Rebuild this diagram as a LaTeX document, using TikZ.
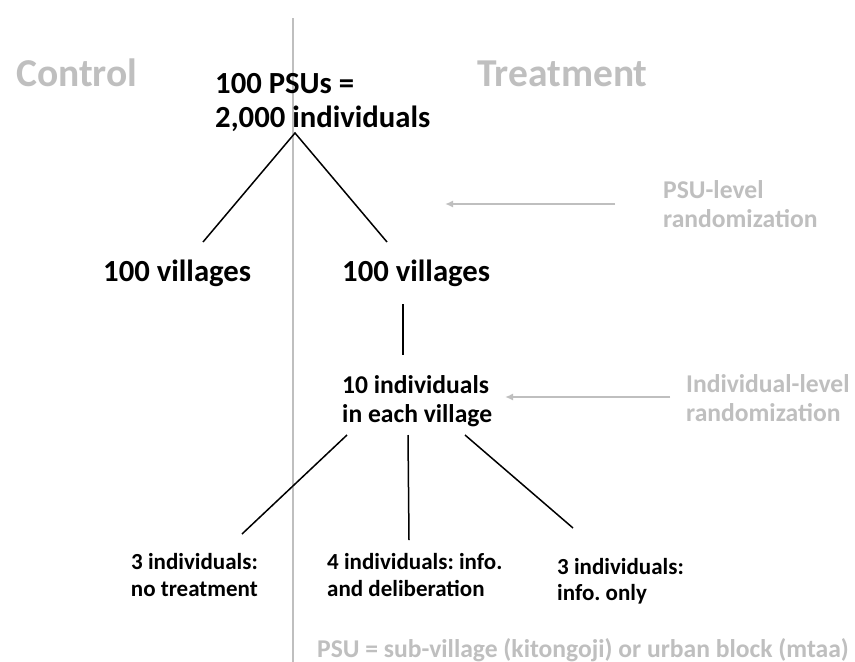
\documentclass[tikz,border=0pt]{standalone}
\usepackage{fontspec}
\setmainfont{Carlito}
\usetikzlibrary{arrows.meta}
\definecolor{refgray}{HTML}{BFBFBF}
\frenchspacing
\begin{document}
\begin{tikzpicture}[x=1pt,y=-1pt,
  txt/.style={inner sep=0pt, anchor=base west},
  hdr/.style={txt, text=refgray, font=\fontsize{39.5}{44}\selectfont\bfseries},
  mainlbl/.style={txt, font=\fontsize{30.7}{34}\selectfont\bfseries},
  midlbl/.style={txt, font=\fontsize{25.6}{29}\selectfont\bfseries},
  botlbl/.style={txt, font=\fontsize{23}{27}\selectfont\bfseries},
  sidelbl/.style={txt, text=refgray, font=\fontsize{25.6}{29}\selectfont\bfseries},
  link/.style={draw=black, line width=1.5pt},
  divider/.style={draw=refgray, line width=2pt},
  randarrow/.style={draw=refgray, line width=2pt, -{Latex[length=8pt,width=7pt]}}
]
\useasboundingbox (0,0) rectangle (855,662);
\fill[white] (0,0) rectangle (855,662);

% divider
\coordinate (divtop) at (293,18);
\coordinate (divbot) at (293,662);
\draw[divider] (divtop) -- (divbot);

% headers
\node[hdr] (control) at (16,86) {Control};
\node[hdr] (treatment) at (477,86) {Treatment};

% root
\node[mainlbl] (root1) at (215,93) {100 PSUs =};
\node[mainlbl] (root2) at (215,127) {2,000 individuals};

\node[mainlbl] (vilc) at (103,281) {100 villages};
\node[mainlbl] (vilt) at (342,281) {100 villages};

\coordinate (apex) at (295,133);
\coordinate (lend) at (203,242);
\coordinate (rend) at (387,242);
\draw[link] (lend) -- (apex) -- (rend);

\coordinate (vtop) at (403,304);
\coordinate (vbot) at (403,355);
\draw[link] (vtop) -- (vbot);

\node[midlbl] (ind1) at (342,393) {10 individuals};
\node[midlbl] (ind2) at (342,422) {in each village};

\coordinate (b1s) at (347,435);
\coordinate (b1e) at (242,534);
\coordinate (b2s) at (408,435);
\coordinate (b2e) at (409,540);
\coordinate (b3s) at (465,435);
\coordinate (b3e) at (573,528);
\draw[link] (b1s) -- (b1e);
\draw[link] (b2s) -- (b2e);
\draw[link] (b3s) -- (b3e);

\node[botlbl, anchor=base east] (no1) at (258,569) {3 individuals:};
\node[botlbl, anchor=base east] (no2) at (258,596) {no treatment};
\node[botlbl] (de1) at (327,569) {4 individuals: info.};
\node[botlbl] (de2) at (327,596) {and deliberation};
\node[botlbl] (io1) at (557,574) {3 individuals:};
\node[botlbl] (io2) at (557,600) {info. only};

% randomization labels
\node[sidelbl] (psul1) at (663,198) {PSU-level};
\node[sidelbl] (psul2) at (663,227) {randomization};
\coordinate (a1s) at (615,204);
\coordinate (a1e) at (445,204);
\draw[randarrow] (a1s) -- (a1e);

\node[sidelbl] (indl1) at (686,392) {Individual-level};
\node[sidelbl] (indl2) at (686,421) {randomization};
\coordinate (a2s) at (670,397);
\coordinate (a2e) at (505,397);
\draw[randarrow] (a2s) -- (a2e);

\node[sidelbl] (foot) at (317,657) {PSU = sub-village (kitongoji) or urban block (mtaa)};
\end{tikzpicture}
\end{document}
